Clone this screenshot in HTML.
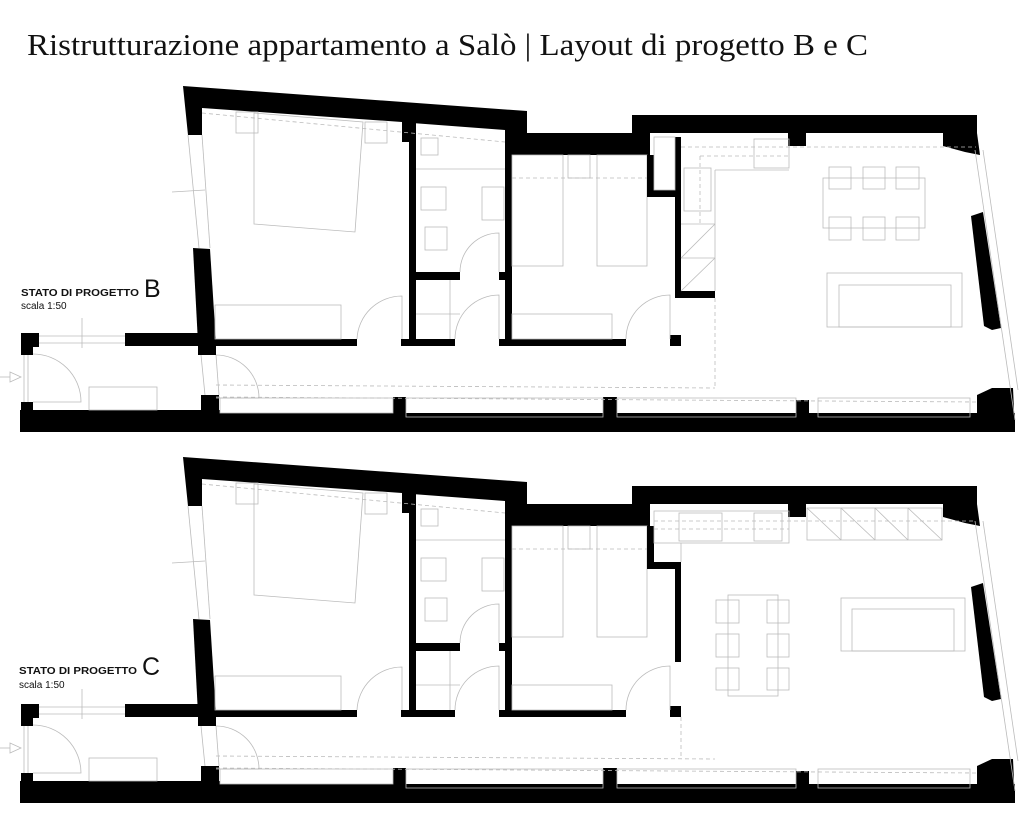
<!DOCTYPE html>
<html><head><meta charset="utf-8"><style>
html,body{margin:0;padding:0;background:#fff;width:1024px;height:835px;overflow:hidden}
svg{display:block}
</style></head><body>
<svg width="1024" height="835" viewBox="0 0 1024 835" xmlns="http://www.w3.org/2000/svg">
<defs>
<g id="base">
 <g fill="#000">
  <polygon points="183,86 527,111 527,133 505,133 505,130 412,123 412,142 402,142 402,122 202,108 202,135 188,135"/>
  <polygon points="505,133 650,133 650,155 505,155"/>
  <rect x="632" y="115" width="345" height="18"/>
  <polygon points="943,133 977,133 980,155 965,152 943,146"/>
  <rect x="788" y="133" width="18" height="13"/>
  <polygon points="193,248 210,249 216,343 198,343"/>
  <rect x="198" y="343" width="18" height="12"/>
  <rect x="201" y="395" width="18" height="18"/>
  <polygon points="971,216 983,212 1001,328 992,330 984,326"/>
  <polygon points="977,395 992,388 1013,388 1015,432 977,432"/>
  <rect x="20" y="413" width="995" height="19"/>
  <rect x="20" y="410" width="200" height="4"/>
  <rect x="393" y="397" width="13" height="17"/>
  <rect x="603" y="397" width="14" height="17"/>
  <rect x="796" y="400" width="13" height="17"/>
  <rect x="21" y="333" width="12" height="22"/>
  <rect x="21" y="402" width="12" height="30"/>
  <rect x="21" y="333" width="18" height="14"/>
  <rect x="125" y="333" width="88" height="13"/>
  <rect x="213" y="339" width="144" height="7"/>
  <rect x="401" y="339" width="54" height="7"/>
  <rect x="499" y="339" width="127" height="7"/>
  <rect x="670" y="335" width="11" height="11"/>
  <rect x="409" y="120" width="7" height="226"/>
  <rect x="416" y="272" width="44" height="8"/>
  <rect x="499" y="272" width="7" height="8"/>
  <rect x="505" y="133" width="7" height="213"/>
 </g>
 <g fill="none" stroke="#bbb" stroke-width="0.8">
  <line x1="188" y1="135" x2="199" y2="248"/><line x1="202" y1="135" x2="210" y2="248"/>
  <line x1="205" y1="190" x2="172" y2="192"/>
  <polygon points="254,113 363,122 355,232 254,224"/>
  <rect x="236" y="112" width="22" height="21"/><rect x="365" y="122" width="22" height="21"/>
  <rect x="215" y="305" width="126" height="34"/>
  <rect x="421" y="138" width="17" height="17"/><rect x="421" y="187" width="25" height="23"/>
  <rect x="482" y="187" width="22" height="33"/><rect x="425" y="227" width="22" height="23"/>
  <line x1="416" y1="169" x2="505" y2="169"/>
  <line x1="416" y1="314" x2="460" y2="314"/><line x1="450" y1="280" x2="450" y2="339"/>
  <path d="M357,339 A45,45 0 0 1 402,296 L402,339"/>
  <path d="M460,272 A39,39 0 0 1 499,233 L499,272"/>
  <path d="M455,339 A44,44 0 0 1 499,295 L499,339"/>
  <path d="M626,339 A44,44 0 0 1 670,295 L670,339"/>
  <path d="M33,354 A48,48 0 0 1 81,402 L33,402"/>
  <path d="M216,355 A43,43 0 0 1 259,398 L216,398"/>
  <rect x="89" y="387" width="68" height="23"/>
  <line x1="39" y1="336" x2="125" y2="336"/><line x1="39" y1="343" x2="125" y2="343"/>
  <line x1="82" y1="318" x2="82" y2="348"/>
  <line x1="24" y1="355" x2="24" y2="402"/><line x1="28" y1="355" x2="28" y2="402"/>
  <polygon points="10,372 21,377 10,382"/><line x1="0" y1="377" x2="10" y2="377"/>
  <line x1="201" y1="355" x2="205" y2="395"/><line x1="216" y1="355" x2="219" y2="395"/>
  <rect x="512" y="155" width="51" height="111"/><rect x="597" y="155" width="50" height="111"/>
  <rect x="568" y="155" width="22" height="23"/>
  <rect x="512" y="314" width="100" height="25"/>
  <rect x="406" y="398" width="197" height="19"/><rect x="617" y="398" width="179" height="19"/>
  <rect x="818" y="398" width="152" height="19"/><rect x="220" y="398" width="173" height="15"/>
  <line x1="975" y1="150" x2="1015" y2="420"/><line x1="983" y1="150" x2="1018" y2="390"/>
 </g>
 <g fill="none" stroke="#bbb" stroke-width="0.8" stroke-dasharray="4,3">
  <line x1="202" y1="113" x2="505" y2="142"/>
  <line x1="512" y1="178" x2="647" y2="178"/>
  <line x1="216" y1="385" x2="715" y2="388"/>
  <line x1="216" y1="397" x2="976" y2="402"/>
 </g>
</g>
</defs>

<text x="27" y="55" font-family="Liberation Serif, serif" font-size="31" fill="#111" textLength="841" lengthAdjust="spacingAndGlyphs">Ristrutturazione appartamento a Salò | Layout di progetto B e C</text>

<use href="#base"/>
<g fill="#000">
 <rect x="647" y="155" width="7" height="42"/><rect x="647" y="190" width="28" height="7"/>
 <rect x="675" y="137" width="6" height="161"/><rect x="675" y="291" width="40" height="7"/>
</g>
<g fill="none" stroke="#bbb" stroke-width="0.8">
 <rect x="654" y="137" width="21" height="53"/>
 <rect x="754" y="139" width="35" height="29"/>
 <rect x="684" y="168" width="27" height="43"/>
 <line x1="681" y1="224" x2="715" y2="224"/><line x1="681" y1="258" x2="715" y2="258"/>
 <line x1="681" y1="258" x2="715" y2="224"/><line x1="681" y1="291" x2="715" y2="258"/>
 <line x1="715" y1="170" x2="715" y2="291"/><line x1="715" y1="170" x2="789" y2="170"/>
 <rect x="823" y="178" width="102" height="50"/>
 <rect x="829" y="167" width="22" height="22"/><rect x="863" y="167" width="22" height="22"/><rect x="896" y="167" width="23" height="22"/>
 <rect x="829" y="217" width="22" height="23"/><rect x="863" y="217" width="22" height="23"/><rect x="896" y="217" width="23" height="23"/>
 <rect x="827" y="273" width="135" height="54"/><rect x="839" y="285" width="112" height="42"/>
</g>
<g fill="none" stroke="#bbb" stroke-width="0.8" stroke-dasharray="4,3">
 <line x1="681" y1="147" x2="976" y2="147"/><line x1="700" y1="156" x2="789" y2="156"/>
 <line x1="700" y1="156" x2="700" y2="224"/><line x1="715" y1="298" x2="715" y2="388"/>
</g>

<g transform="translate(0,371)"><use href="#base"/>
<g fill="#000">
 <rect x="647" y="155" width="7" height="42"/><rect x="647" y="191" width="34" height="7"/>
 <rect x="675" y="191" width="6" height="100"/>
</g>
<g fill="none" stroke="#bbb" stroke-width="0.8">
 <rect x="654" y="140" width="135" height="32"/>
 <rect x="679" y="142" width="43" height="28"/><rect x="754" y="142" width="28" height="28"/>
 <rect x="807" y="137" width="135" height="32"/>
 <line x1="841" y1="137" x2="841" y2="169"/><line x1="875" y1="137" x2="875" y2="169"/><line x1="908" y1="137" x2="908" y2="169"/>
 <line x1="807" y1="137" x2="841" y2="169"/><line x1="841" y1="137" x2="875" y2="169"/><line x1="875" y1="137" x2="908" y2="169"/><line x1="908" y1="137" x2="942" y2="169"/>
 <line x1="681" y1="172" x2="681" y2="191"/>
 <rect x="728" y="224" width="50" height="101"/>
 <rect x="716" y="229" width="23" height="23"/><rect x="767" y="229" width="22" height="23"/>
 <rect x="716" y="263" width="23" height="23"/><rect x="767" y="263" width="22" height="23"/>
 <rect x="716" y="297" width="23" height="22"/><rect x="767" y="297" width="22" height="22"/>
 <rect x="841" y="227" width="124" height="53"/><rect x="852" y="238" width="102" height="42"/>
</g>
<g fill="none" stroke="#bbb" stroke-width="0.8" stroke-dasharray="4,3">
 <line x1="654" y1="150" x2="976" y2="150"/><line x1="654" y1="158" x2="789" y2="158"/>
 <line x1="681" y1="346" x2="681" y2="388"/>
</g>
</g>

<g font-family="Liberation Sans, sans-serif" fill="#111">
 <text x="21" y="296" font-size="10.5" font-weight="bold" textLength="118" lengthAdjust="spacingAndGlyphs">STATO DI PROGETTO</text>
 <text x="144" y="297" font-size="25">B</text>
 <text x="21" y="309" font-size="10">scala 1:50</text>
 <text x="19" y="674" font-size="10.5" font-weight="bold" textLength="118" lengthAdjust="spacingAndGlyphs">STATO DI PROGETTO</text>
 <text x="142" y="675" font-size="25">C</text>
 <text x="19" y="688" font-size="10">scala 1:50</text>
</g>
</svg>
</body></html>
